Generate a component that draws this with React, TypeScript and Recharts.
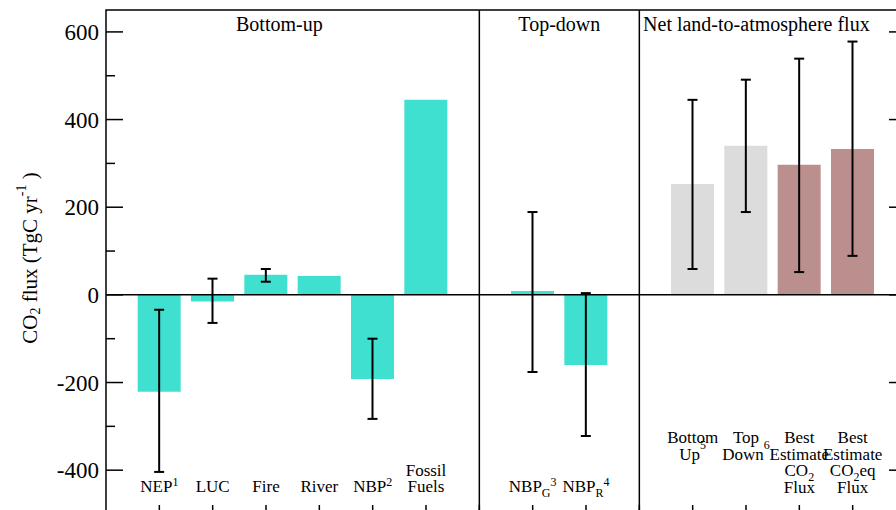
import { Bar, BarChart, Cell, ErrorBar, ReferenceArea, ReferenceDot, ReferenceLine, XAxis, YAxis } from "recharts";

const FONT = '"Liberation Serif", "Times New Roman", Times, serif';

// "_x" = subscript, "^x" = superscript, "`x" = raised superscript, "\n" = new line
const categories = [
  "NEP^1",
  "LUC",
  "Fire",
  "River",
  "NBP^2",
  "Fossil\nFuels",
  "NBP_G^3",
  "NBP_R^4",
  "Bottom\nUp`5",
  "Top\nDown`6",
  "Best\nEstimate\nCO_2\nFlux",
  "Best\nEstimate\nCO_2eq\nFlux",
];
const positions = [1, 2, 3, 4, 5, 6, 8, 9, 11, 12, 13, 14];
const fluxes = [-221, -15, 46, 43, -192, 445, 9, -160, 253, 340, 297, 333];
const errMinus = [183, 49, 16, null, 91, null, 185, 162, 194, 151, 245, 244];
const errPlus = [187, 52, 13, null, 92, null, 180, 164, 192, 151, 242, 245];
const groups = [
  "bottom", "bottom", "bottom", "bottom", "bottom", "bottom",
  "top", "top",
  "net", "net", "best", "best",
];

const GROUP_COLORS: Record<string, string> = {
  bottom: "#40E0D0",
  top: "#40E0D0",
  net: "#DCDCDC",
  best: "#BC8F8F",
};

const xTicks = [1, 2, 3, 4, 5, 6, 7, 8, 9, 10, 11, 12, 13, 14];
const yTicks = [-500, -400, -300, -200, -100, 0, 100, 200, 300, 400, 500, 600];
const dividers = [7, 10];
const sectionTitles = ["Bottom-up", "Top-down", "Net land-to-atmosphere flux"];
const sectionPositions = [3.25, 8.5, 10.07];

const data = positions.map((x, i) => ({
  x,
  flux: fluxes[i],
  err: errMinus[i] == null ? null : [errMinus[i], errPlus[i]],
  group: groups[i],
}));

function pieces(line: string) {
  const parts = line.split(/([_^`].)/).filter(Boolean);
  let shift = 0;
  return parts.map((p, i) => {
    const mark = p[0];
    if (p.length === 2 && (mark === "_" || mark === "^" || mark === "`")) {
      const d = mark === "_" ? 5 : mark === "^" ? -6 : -11;
      const el = (
        <tspan key={i} dy={d - shift} fontSize={12}>
          {p[1]}
        </tspan>
      );
      shift = d;
      return el;
    }
    const el = (
      <tspan key={i} dy={-shift}>
        {p}
      </tspan>
    );
    shift = 0;
    return el;
  });
}

function CategoryTick(props: any) {
  const { x, y, payload } = props;
  const i = positions.indexOf(payload.value);
  const mark = <line x1={x} x2={x} y1={y} y2={y - 9} stroke="#000" strokeWidth={1.5} />;
  if (i < 0) return <g>{mark}</g>;
  const lines = categories[i].split("\n");
  const net = groups[i] === "net" || groups[i] === "best";
  const first = net ? y - 71 : y - 22 - (lines.length - 1) * 16.5;
  return (
    <g>
      {mark}
      {lines.map((l, k) => (
        <text
          key={k}
          x={x}
          y={first + k * 16.5}
          textAnchor="middle"
          fontFamily={FONT}
          fontSize={17}
          fill="#000"
        >
          {pieces(l)}
        </text>
      ))}
    </g>
  );
}

function LeftTick(props: any) {
  const { x, y, payload } = props;
  const major = payload.value % 200 === 0;
  return (
    <g>
      <line x1={x} x2={x + (major ? 17 : 9)} y1={y} y2={y} stroke="#000" strokeWidth={1.5} />
      {major && (
        <text x={x - 7} y={y} dy="0.35em" textAnchor="end" fontFamily={FONT} fontSize={23} fill="#000">
          {payload.value}
        </text>
      )}
    </g>
  );
}

function RightTick(props: any) {
  const { x, y, payload } = props;
  const major = payload.value % 200 === 0;
  return <line x1={x} x2={x - (major ? 17 : 9)} y1={y} y2={y} stroke="#000" strokeWidth={1.5} />;
}

function SectionTitle({ viewBox, text, start }: any) {
  if (!viewBox) return null;
  const cx = viewBox.x + (viewBox.width || 0) / 2;
  const cy = viewBox.y + (viewBox.height || 0) / 2;
  return (
    <text
      x={cx}
      y={cy + 21}
      textAnchor={start ? "start" : "middle"}
      fontFamily={FONT}
      fontSize={20}
      fill="#000"
    >
      {text}
    </text>
  );
}

function YTitle(props: any) {
  const vb = props.viewBox || { x: 0, y: 10, width: 106, height: 504 };
  const cx = vb.x + 32;
  const cy = vb.y + 248;
  return (
    <text
      x={cx}
      y={cy}
      transform={`rotate(-90, ${cx}, ${cy})`}
      textAnchor="middle"
      dominantBaseline="middle"
      fontFamily={FONT}
      fontSize={21}
      fill="#000"
    >
      <tspan>CO</tspan>
      <tspan dy={5} fontSize={14}>2</tspan>
      <tspan dy={-5}> flux (TgC yr</tspan>
      <tspan dy={-9} fontSize={14}>-1</tspan>
      <tspan dy={9}> )</tspan>
    </text>
  );
}

export default function App() {
  return (
    <div
      style={{
        position: "absolute",
        left: 0,
        top: 0,
        width: 896,
        height: 510,
        overflow: "hidden",
        background: "#fff",
      }}
    >
      <BarChart
        width={930}
        height={530}
        data={data}
        margin={{ top: 10, right: 0, bottom: 0, left: 0 }}
        barSize={43}
      >
        <XAxis
          dataKey="x"
          type="number"
          domain={[0, 15]}
          ticks={xTicks}
          interval={0}
          allowDataOverflow
          axisLine={false}
          tickLine={false}
          tickSize={0}
          tickMargin={0}
          height={16}
          tick={<CategoryTick />}
        />
        <YAxis
          type="number"
          domain={[-500, 650]}
          ticks={yTicks}
          interval={0}
          allowDataOverflow
          width={106}
          axisLine={false}
          tickLine={false}
          tickSize={0}
          tickMargin={0}
          tick={<LeftTick />}
          label={{ content: (p: any) => <YTitle {...p} /> }}
        />
        <YAxis
          yAxisId="r"
          orientation="right"
          type="number"
          domain={[-500, 650]}
          ticks={yTicks}
          interval={0}
          allowDataOverflow
          width={24}
          axisLine={false}
          tickLine={false}
          tickSize={0}
          tickMargin={0}
          tick={<RightTick />}
        />
        <Bar dataKey="flux" isAnimationActive={false}>
          {data.map((d, i) => (
            <Cell key={i} fill={GROUP_COLORS[d.group]} />
          ))}
          <ErrorBar
            dataKey="err"
            width={5}
            strokeWidth={2}
            stroke="#000"
            direction="y"
            isAnimationActive={false}
          />
        </Bar>
        <ReferenceLine y={0} stroke="#000" strokeWidth={1.5} />
        {dividers.map((d) => (
          <ReferenceLine key={d} x={d} stroke="#000" strokeWidth={1.5} />
        ))}
        {sectionTitles.map((t, i) => (
          <ReferenceDot
            key={t}
            x={sectionPositions[i]}
            y={650}
            r={0}
            fill="none"
            stroke="none"
            ifOverflow="visible"
            label={{ content: (p: any) => <SectionTitle {...p} text={t} start={i === 2} /> }}
          />
        ))}
        <ReferenceArea
          x1={0}
          x2={15}
          y1={-500}
          y2={650}
          fill="none"
          fillOpacity={0}
          stroke="#000"
          strokeWidth={1.5}
          strokeOpacity={1}
        />
      </BarChart>
    </div>
  );
}
